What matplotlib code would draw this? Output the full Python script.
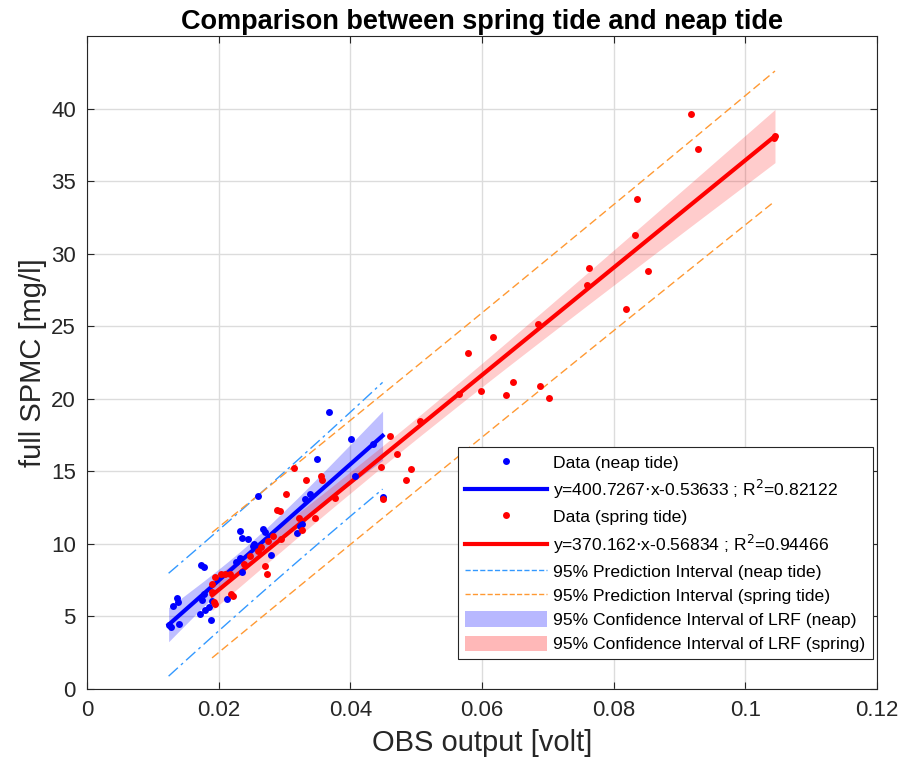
import numpy as np
import matplotlib
matplotlib.use('Agg')
import matplotlib.pyplot as plt
from matplotlib.patches import Patch
from matplotlib.lines import Line2D

plt.rcParams['font.family'] = ['Liberation Sans', 'DejaVu Sans']

# fit coefficients shown in the legend
neap_a, neap_b, neap_r2 = 400.7267, -0.53633, 0.82122
spring_a, spring_b, spring_r2 = 370.162, -0.56834, 0.94466

# neap tide samples: OBS output [volt] / SPMC [mg/l]
neap_x = [0.0124, 0.0127, 0.0140, 0.0131, 0.0136, 0.0138, 0.0173, 0.0177, 0.0171, 0.0180,
          0.0185, 0.0189, 0.0174, 0.0177, 0.0190, 0.0213, 0.0232, 0.0236, 0.0244, 0.0252,
          0.0260, 0.0268, 0.0271, 0.0233, 0.0236, 0.0279, 0.0319, 0.0323, 0.0331, 0.0338,
          0.0350, 0.0368, 0.0401, 0.0407, 0.0435, 0.0449, 0.0226, 0.0253, 0.0327]
neap_y = [4.40, 4.26, 4.47, 5.70, 6.30, 6.00, 8.57, 8.41, 5.15, 5.43,
          5.66, 4.74, 6.12, 6.53, 6.05, 6.23, 10.86, 10.38, 10.31, 9.83,
          13.31, 11.00, 10.81, 9.02, 8.06, 9.26, 10.74, 11.27, 13.11, 13.42,
          15.86, 19.06, 17.20, 14.71, 16.89, 13.22, 8.75, 10.00, 11.39]

# spring tide samples
spring_x = [0.0315, 0.0332, 0.0356, 0.0357, 0.0303, 0.0289, 0.0293, 0.0322, 0.0346, 0.0327,
            0.0376, 0.0283, 0.0275, 0.0294, 0.0264, 0.0270, 0.0274, 0.0203, 0.0210, 0.0217,
            0.0190, 0.0190, 0.0193, 0.0195, 0.0219, 0.0222, 0.0461, 0.0447, 0.0471, 0.0492,
            0.0484, 0.0449, 0.0506, 0.0685, 0.0617, 0.0578, 0.0565, 0.0598, 0.0637, 0.0647,
            0.0688, 0.0701, 0.0819, 0.0918, 0.0928, 0.1044, 0.1045, 0.0835, 0.0833, 0.0852,
            0.0763, 0.0760, 0.0195, 0.0238, 0.0248, 0.0260]
spring_y = [15.24, 14.41, 14.71, 14.41, 13.45, 12.35, 12.30, 11.77, 11.82, 10.98,
            13.18, 10.54, 10.17, 10.31, 9.78, 8.45, 7.95, 7.95, 7.95, 7.95,
            7.22, 6.69, 6.00, 5.89, 6.53, 6.39, 17.44, 15.33, 16.20, 15.14,
            14.43, 13.10, 18.44, 25.17, 24.28, 23.14, 20.32, 20.53, 20.30, 21.19,
            20.87, 20.05, 26.19, 39.66, 37.20, 37.96, 38.10, 33.79, 31.32, 28.80,
            29.00, 27.83, 7.72, 8.60, 9.20, 9.50]

xticks = [0, 0.02, 0.04, 0.06, 0.08, 0.1, 0.12]
xticklabels = ['0', '0.02', '0.04', '0.06', '0.08', '0.1', '0.12']
yticks = [0, 5, 10, 15, 20, 25, 30, 35, 40]


def bands(x, y, a, b):
    x = np.asarray(x)
    y = np.asarray(y)
    n = len(x)
    s = np.sqrt(np.sum((y - (a * x + b)) ** 2) / (n - 2))
    xm = x.mean()
    sxx = np.sum((x - xm) ** 2)
    t = 2.02                      # t(0.975, n-2)
    k = np.sqrt(2 * 3.2)          # simultaneous (Scheffe) factor for the fitted line
    xx = np.sort(x)
    fit = a * xx + b
    ci = k * s * np.sqrt(1.0 / n + (xx - xm) ** 2 / sxx)
    pi = t * s * np.sqrt(1 + 1.0 / n + (xx - xm) ** 2 / sxx)
    return xx, fit, ci, pi


fig = plt.figure(figsize=(9.05, 7.69), dpi=100)
ax = fig.add_axes([0.0961, 0.104, 0.873, 0.849])

nx, nfit, nci, npi = bands(neap_x, neap_y, neap_a, neap_b)
sx, sfit, sci, spi = bands(spring_x, spring_y, spring_a, spring_b)

pi_blue = '#3399ff'
pi_orange = '#ff9933'

ax.fill_between(nx, nfit - nci, nfit + nci, color='#0000ff', alpha=0.25, lw=0, zorder=2)
ax.fill_between(sx, sfit - sci, sfit + sci, color='#ff0000', alpha=0.2, lw=0, zorder=2)

ax.plot(nx, nfit + npi, color=pi_blue, lw=1, dashes=(9, 3, 2, 3), zorder=3)
ax.plot(nx, nfit - npi, color=pi_blue, lw=1, dashes=(9, 3, 2, 3), zorder=3)
ax.plot(sx, sfit + spi, color=pi_orange, lw=1, dashes=(6, 3), zorder=3)
ax.plot(sx, sfit - spi, color=pi_orange, lw=1, dashes=(6, 3), zorder=3)

ax.plot(nx, nfit, color='#0000ff', lw=3, zorder=4)
ax.plot(sx, sfit, color='#ff0000', lw=3, zorder=4)
ax.plot(neap_x, neap_y, 'o', color='#0000ff', ms=5, mec='none', zorder=5)
ax.plot(spring_x, spring_y, 'o', color='#ff0000', ms=5, mec='none', zorder=5)

ax.set_xlim(0, 0.12)
ax.set_ylim(0, 45)
ax.set_xticks(xticks)
ax.set_xticklabels(xticklabels)
ax.set_yticks(yticks)
ax.tick_params(direction='in', top=True, right=True, labelsize=16, length=5, width=0.8,
               colors='#262626', pad=8)
ax.grid(True, color='#dcdcdc', lw=1)
ax.set_axisbelow(True)
for sp in ax.spines.values():
    sp.set_color('#262626')
    sp.set_linewidth(0.8)

ax.set_xlabel('OBS output [volt]', fontsize=21, color='#262626', labelpad=6)
ax.set_ylabel('full SPMC [mg/l]', fontsize=21, color='#262626', labelpad=3)
ax.set_title('Comparison between spring tide and neap tide', fontsize=19.5, fontweight='bold', pad=5)

handles = [
    Line2D([], [], ls='none', marker='o', color='#0000ff', ms=5, mec='none'),
    Line2D([], [], color='#0000ff', lw=3),
    Line2D([], [], ls='none', marker='o', color='#ff0000', ms=5, mec='none'),
    Line2D([], [], color='#ff0000', lw=3),
    Line2D([], [], color=pi_blue, lw=1, ls='--'),
    Line2D([], [], color=pi_orange, lw=1, ls='--'),
    Patch(facecolor='#0000ff', alpha=0.28, lw=0),
    Patch(facecolor='#ff0000', alpha=0.28, lw=0),
]
labels = [
    'Data (neap tide)',
    'y=%.4f$\\cdot$x%.5f ; R$^2$=%.5f' % (neap_a, neap_b, neap_r2),
    'Data (spring tide)',
    'y=%.3f$\\cdot$x%.5f ; R$^2$=%.5f' % (spring_a, spring_b, spring_r2),
    '95% Prediction Interval (neap tide)',
    '95% Prediction Interval (spring tide)',
    '95% Confidence Interval of LRF (neap)',
    '95% Confidence Interval of LRF (spring)',
]
leg = fig.legend(handles, labels, loc='upper left', bbox_to_anchor=(0.506, 0.419),
                 borderaxespad=0, fontsize=12.6, frameon=True, fancybox=False, framealpha=1,
                 edgecolor='#262626', handlelength=4.7, handleheight=1.0,
                 labelspacing=0.42, borderpad=0.4, handletextpad=0.35)
leg.get_frame().set_linewidth(0.8)

fig.savefig('out.png', dpi=100)
